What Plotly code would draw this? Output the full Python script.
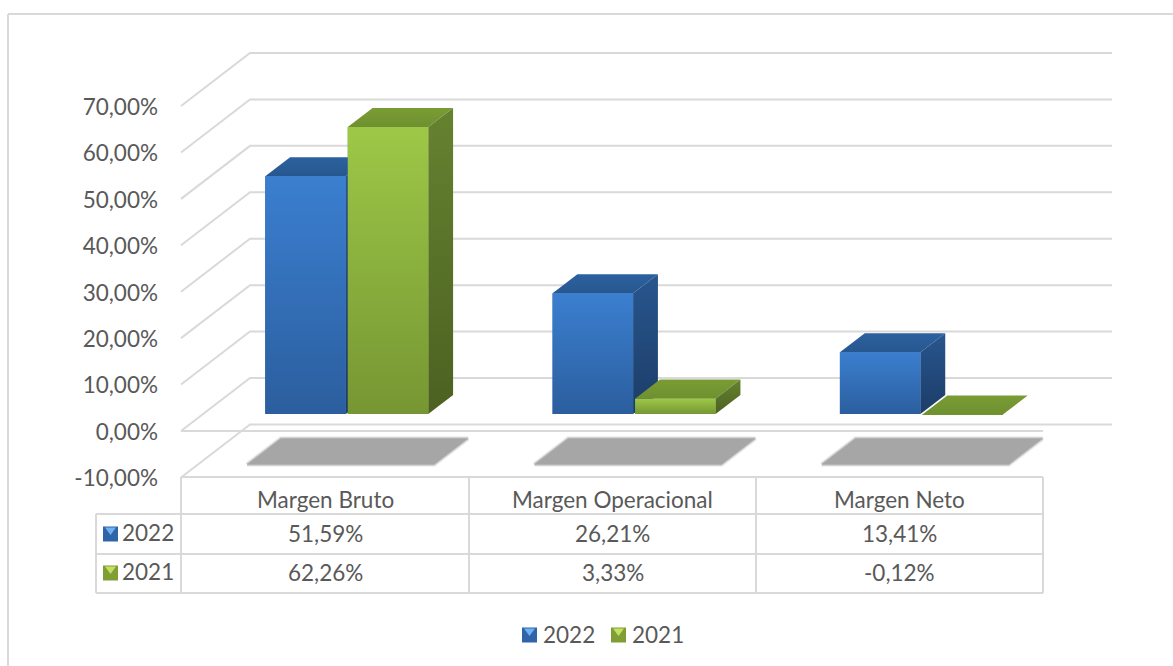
import plotly.graph_objects as go

# ---- data ----
categories = ["Margen Bruto", "Margen Operacional", "Margen Neto"]
series_names = ["2022", "2021"]
values_2022 = [51.59, 26.21, 13.41]
values_2021 = [62.26, 3.33, -0.12]
labels_2022 = ["51,59%", "26,21%", "13,41%"]
labels_2021 = ["62,26%", "3,33%", "-0,12%"]
tick_values = [-10, 0, 10, 20, 30, 40, 50, 60, 70]
tick_labels = ["-10,00%", "0,00%", "10,00%", "20,00%", "30,00%", "40,00%", "50,00%", "60,00%", "70,00%"]

# ---- canvas / scale ----
W, H = 1173, 666
ML = 159
CAT_PX = 287.33
X0_PX = 181
VAL_PX = 4.643      # wall scale (px per 1 %)
BAR_VAL_PX = 4.61   # bars stand in a plane slightly deeper in the 3D scene
Y0_PX = 431
FONT = "Lato"
FS = 22.5
TXT = "#595959"
GRID = "#d9d9d9"

px = lambda p: (p - ML) / (W - ML)
py = lambda p: 1 - p / H

# oblique projection of the depth direction, in data units
DX = 69 / CAT_PX
DY = 53 / VAL_PX
DY_BAR = 53 / BAR_VAL_PX
D_FRONT, D_BACK = 0.32, 0.68
BAR_W = 80.5 / CAT_PX
BAR_GAP = 2 / CAT_PX

STYLE = {
    "2022": dict(front=["#2b5e9e", "#3b7fd0"], side=["#1c3d68", "#28568e"], top=["#27578f", "#2c619f"], icon="#2f65a8", tri="#6fb0f0"),
    "2021": dict(front=["#769633", "#9dc847"], side=["#4c6121", "#658230"], top=["#6f9030", "#7a9c34"], icon="#7f9f36", tri="#c4e060"),
}


def proj(x, v, d, dy=DY):
    return x + d * DX, v + d * dy


def face(points, colors):
    xs = [p[0] for p in points] + [points[0][0]]
    ys = [p[1] for p in points] + [points[0][1]]
    return go.Scatter(
        x=xs, y=ys, yaxis="y2", mode="lines", line=dict(width=0), fill="toself",
        fillgradient=dict(type="vertical", colorscale=[[0, colors[0]], [1, colors[1]]]),
        hoverinfo="skip", showlegend=False,
    )


fig = go.Figure()

# gridlines: diagonal on the side wall + horizontal on the back wall
x_left = -0.5
x_right = 2.5
for t in tick_values:
    bx, by = proj(x_left, t, 1)
    fig.add_trace(go.Scatter(
        x=[x_left, bx, proj(x_right, t, 1)[0]], y=[t, by, by], mode="lines",
        line=dict(color=GRID, width=2), hoverinfo="skip", showlegend=False,
    ))
# front edge of the zero floor
fig.add_trace(go.Scatter(x=[x_left, x_right], y=[0, 0], mode="lines",
                         line=dict(color=GRID, width=2), hoverinfo="skip", showlegend=False))

# floor shadows (soft edge built from wider translucent outlines)
PAD_L, PAD_R = 13 / CAT_PX, 11 / CAT_PX
for i in range(len(categories)):
    l = i - BAR_W - BAR_GAP / 2 - PAD_L
    r = i + BAR_W + BAR_GAP / 2 + PAD_R
    d0, d1 = 0.245, 0.735
    pts = [proj(l, -10, d0), proj(r, -10, d0), proj(r, -10, d1), proj(l, -10, d1), proj(l, -10, d0)]
    for w, a in ((5, 0.15), (3, 0.3), (1.5, 0.5)):
        fig.add_trace(go.Scatter(
            x=[p[0] for p in pts], y=[p[1] for p in pts], mode="lines",
            line=dict(width=w, color=f"rgba(166,166,166,{a})"),
            hoverinfo="skip", showlegend=False,
        ))
    fig.add_trace(go.Scatter(
        x=[p[0] for p in pts], y=[p[1] for p in pts], mode="lines",
        line=dict(width=0), fill="toself", fillcolor="#a6a6a6",
        hoverinfo="skip", showlegend=False,
    ))

# bars
base_val = D_FRONT * DY_BAR
for name, vals, sign in ((series_names[0], values_2022, -1), (series_names[1], values_2021, 1)):
    centers = [i + D_FRONT * DX + sign * (BAR_W + BAR_GAP) / 2 for i in range(len(vals))]
    fig.add_trace(go.Bar(
        x=centers, y=vals, base=base_val, yaxis="y2", width=BAR_W, name=name, showlegend=False,
        marker=dict(color=STYLE[name]["front"][0], line=dict(width=0)),
    ))

for i in range(len(categories)):
    for name, vals, sign in ((series_names[0], values_2022, -1), (series_names[1], values_2021, 1)):
        st = STYLE[name]
        c = i + sign * (BAR_W + BAR_GAP) / 2
        l, r, v = c - BAR_W / 2, c + BAR_W / 2, vals[i]
        P = lambda x, val, d: proj(x, val, d, DY_BAR)
        # top
        fig.add_trace(face([P(l, v, D_FRONT), P(r, v, D_FRONT), P(r, v, D_BACK), P(l, v, D_BACK)], st["top"]))
        if abs(v) > 0.5:
            # side
            fig.add_trace(face([P(r, 0, D_FRONT), P(r, 0, D_BACK), P(r, v, D_BACK), P(r, v, D_FRONT)], st["side"]))
            # front
            fig.add_trace(face([P(l, 0, D_FRONT), P(r, 0, D_FRONT), P(r, v, D_FRONT), P(l, v, D_FRONT)], st["front"]))

# ---- chrome: border, data table, legend ----
shapes = []
def line(x0, y0, x1, y1, color=GRID, width=2):
    shapes.append(dict(type="line", xref="paper", yref="paper", x0=px(x0), y0=py(y0), x1=px(x1), y1=py(y1),
                       line=dict(color=color, width=width)))

line(8, 14, W, 14)
line(8, 14, 8, H)

TABLE_COLS = [181, 469, 756, 1043]
line(TABLE_COLS[0], 477, TABLE_COLS[-1], 477)
for yy in (514, 554, 593):
    line(96, yy, TABLE_COLS[-1], yy)
for xx in TABLE_COLS:
    line(xx, 477, xx, 593)
line(96, 514, 96, 593)


def icon(x, yc, name):
    st = STYLE[name]
    s = 7.5
    shapes.append(dict(type="rect", xref="paper", yref="paper", x0=px(x), x1=px(x + 2 * s), y0=py(yc - s), y1=py(yc + s),
                       fillcolor=st["icon"], line=dict(width=0)))
    shapes.append(dict(type="path", xref="paper", yref="paper", line=dict(width=0), fillcolor=st["tri"],
                       path=f"M {px(x + 2)} {py(yc - s + 1)} L {px(x + 2 * s - 2)} {py(yc - s + 1)} L {px(x + s)} {py(yc + 1)} Z"))


annotations = []
def text(x, y, s, anchor="center", size=FS):
    annotations.append(dict(xref="paper", yref="paper", x=px(x), y=py(y), text=s, showarrow=False,
                            xanchor=anchor, yanchor="middle", font=dict(family=FONT, size=size, color=TXT)))


for i, cat in enumerate(categories):
    cx = (TABLE_COLS[i] + TABLE_COLS[i + 1]) / 2
    text(cx, 500, cat)
    text(cx, 533, labels_2022[i])
    text(cx, 572, labels_2021[i])

icon(103, 534, series_names[0])
icon(103, 573, series_names[1])
text(120, 532, series_names[0], "left")
text(120, 571, series_names[1], "left")

icon(522, 635, series_names[0])
icon(611, 635, series_names[1])
text(541, 634, series_names[0], "left")
text(630, 634, series_names[1], "left")

fig.update_layout(
    width=W, height=H,
    margin=dict(l=ML, r=0, t=0, b=0, autoexpand=False),
    paper_bgcolor="white", plot_bgcolor="white",
    barmode="overlay",
    showlegend=False,
    shapes=shapes, annotations=annotations,
    xaxis=dict(visible=False, range=[x_left - (X0_PX - ML) / CAT_PX, x_left + (W - X0_PX) / CAT_PX], fixedrange=True),
    yaxis=dict(
        range=[(Y0_PX - H) / VAL_PX, Y0_PX / VAL_PX], tickmode="array", tickvals=tick_values, ticktext=tick_labels,
        showgrid=False, zeroline=False, showline=False, ticks="", fixedrange=True,
        ticklabelshift=1,
        tickfont=dict(family=FONT, size=FS, color=TXT),
    ),
    yaxis2=dict(
        range=[(Y0_PX - H) / BAR_VAL_PX, Y0_PX / BAR_VAL_PX], overlaying="y", visible=False, fixedrange=True,
    ),
)

fig.write_html("out.html", config=dict(displayModeBar=False),
               post_script="document.body.style.margin='0';document.body.style.overflow='hidden';")
